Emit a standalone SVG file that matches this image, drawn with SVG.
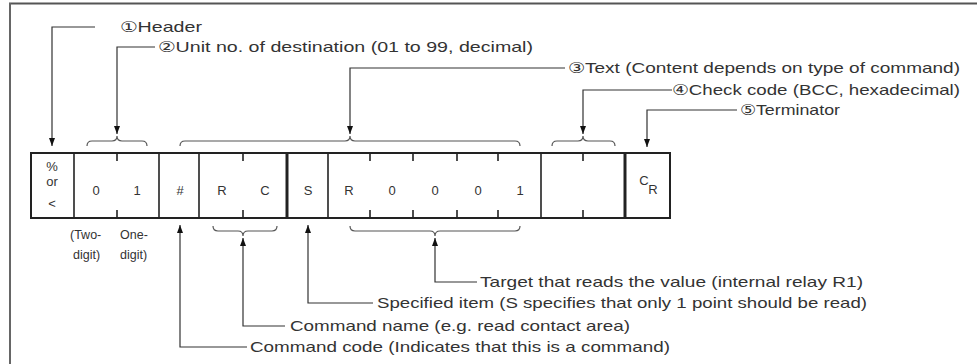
<svg xmlns="http://www.w3.org/2000/svg" width="977" height="364" viewBox="0 0 977 364">
<defs>
<style>
.t{font-family:"Liberation Sans","DejaVu Sans",sans-serif;font-size:15px;fill:#333}
.c{font-family:"Liberation Sans","DejaVu Sans",sans-serif;font-size:13px;fill:#333;text-anchor:middle}
.s{font-family:"Liberation Sans","DejaVu Sans",sans-serif;font-size:12.5px;fill:#333}
.ln{fill:none;stroke:#333;stroke-width:1.2}
.br{fill:none;stroke:#555;stroke-width:1.2}
.cell{fill:none;stroke:#222;stroke-width:2}
.div{stroke:#222;stroke-width:1.6}
.thick{stroke:#222;stroke-width:3}
.tick{stroke:#222;stroke-width:1.6}
</style>
<marker id="ah" markerWidth="8" markerHeight="6" refX="8" refY="3" orient="auto" markerUnits="userSpaceOnUse">
<path d="M0,0 L8,3 L0,6 z" fill="#111"/>
</marker>
</defs>
<rect width="977" height="364" fill="#fff"/>
<g id="frame">
<line x1="9" y1="3.5" x2="977" y2="3.5" stroke="#555" stroke-width="2"/>
<line x1="10" y1="3" x2="10" y2="364" stroke="#666" stroke-width="2"/>
</g>
<g id="message">
<rect class="cell" x="31" y="153" width="639" height="65"/>
<line class="div" x1="74" y1="153" x2="74" y2="218"/>
<line class="div" x1="159" y1="153" x2="159" y2="218"/>
<line class="div" x1="199" y1="153" x2="199" y2="218"/>
<line class="thick" x1="287" y1="153" x2="287" y2="218"/>
<line class="div" x1="328" y1="153" x2="328" y2="218"/>
<line class="div" x1="541" y1="153" x2="541" y2="218"/>
<line class="thick" x1="625" y1="153" x2="625" y2="218"/>
<g id="ticks">
<path class="tick" d="M117,153V161M117,210V218M243,153V161M243,210V218M370,153V161M370,210V218M413,153V161M413,210V218M457,153V161M457,210V218M498,153V161M498,210V218M583,153V161M583,210V218"/>
</g>
<text class="c" x="52" y="171" font-size="10">%</text>
<text class="c" x="52" y="186" font-size="10">or</text>
<text class="c" x="52" y="208" font-size="13">&lt;</text>
<text class="c" x="96" y="195">0</text>
<text class="c" x="137" y="195">1</text>
<text class="c" x="180" y="195">#</text>
<text class="c" x="222" y="195">R</text>
<text class="c" x="265" y="195">C</text>
<text class="c" x="308" y="195">S</text>
<text class="c" x="349" y="195">R</text>
<text class="c" x="392" y="195">0</text>
<text class="c" x="435" y="195">0</text>
<text class="c" x="478" y="195">0</text>
<text class="c" x="520" y="195">1</text>
<text class="c" x="644" y="185" font-size="10">C</text>
<text class="c" x="653" y="194" font-size="8">R</text>
</g>
<g id="braces">
<path class="br" d="M87,146 Q87,141 92,141 L112,141 Q117,141 117,136 Q117,141 122,141 L142,141 Q147,141 147,146"/>
<path class="br" d="M180,146 Q180,141 185,141 L345,141 Q350,141 350,136 Q350,141 355,141 L515,141 Q520,141 520,146"/>
<path class="br" d="M552,146 Q552,141 557,141 L578,141 Q583,141 583,136 Q583,141 588,141 L610,141 Q615,141 615,146"/>
<path class="br" d="M213,226 Q213,231 218,231 L238,231 Q243,231 243,236 Q243,231 248,231 L272,231 Q277,231 277,226"/>
<path class="br" d="M350,226 Q350,231 355,231 L430,231 Q435,231 435,236 Q435,231 440,231 L515,231 Q520,231 520,226"/>
</g>
<g id="connectors">
<path class="ln" d="M95,27 H52 V146" marker-end="url(#ah)"/>
<path class="ln" d="M155,47 H117 V134" marker-end="url(#ah)"/>
<path class="ln" d="M565,68 H350 V134" marker-end="url(#ah)"/>
<path class="ln" d="M672,90 H583 V134" marker-end="url(#ah)"/>
<path class="ln" d="M737,110 H647 V147" marker-end="url(#ah)"/>
<path class="ln" d="M247,347 H180 V225" marker-end="url(#ah)"/>
<path class="ln" d="M285,326 H243 V238" marker-end="url(#ah)"/>
<path class="ln" d="M373,303 H308 V225" marker-end="url(#ah)"/>
<path class="ln" d="M477,282 H435 V238" marker-end="url(#ah)"/>
</g>
<g id="label-header"><text class="t" x="120" y="32" textLength="82" lengthAdjust="spacingAndGlyphs">①Header</text></g>
<g id="label-unit"><text class="t" x="158" y="52" textLength="375" lengthAdjust="spacingAndGlyphs">②Unit no. of destination (01 to 99, decimal)</text></g>
<g id="label-text"><text class="t" x="568" y="73" textLength="392" lengthAdjust="spacingAndGlyphs">③Text (Content depends on type of command)</text></g>
<g id="label-check"><text class="t" x="672" y="95" textLength="288" lengthAdjust="spacingAndGlyphs">④Check code (BCC, hexadecimal)</text></g>
<g id="label-term"><text class="t" x="740" y="115" textLength="100" lengthAdjust="spacingAndGlyphs">⑤Terminator</text></g>
<g id="label-digits">
<text class="s" x="70" y="239">(Two-</text>
<text class="s" x="120" y="239">One-</text>
<text class="s" x="73" y="259">digit)</text>
<text class="s" x="120" y="259">digit)</text>
</g>
<g id="label-target"><text class="t" x="480" y="287" textLength="383" lengthAdjust="spacingAndGlyphs">Target that reads the value (internal relay R1)</text></g>
<g id="label-spec"><text class="t" x="377" y="308" textLength="490" lengthAdjust="spacingAndGlyphs">Specified item (S specifies that only 1 point should be read)</text></g>
<g id="label-cmdname"><text class="t" x="290" y="331" textLength="340" lengthAdjust="spacingAndGlyphs">Command name (e.g. read contact area)</text></g>
<g id="label-cmdcode"><text class="t" x="250" y="352" textLength="420" lengthAdjust="spacingAndGlyphs">Command code (Indicates that this is a command)</text></g>
</svg>
